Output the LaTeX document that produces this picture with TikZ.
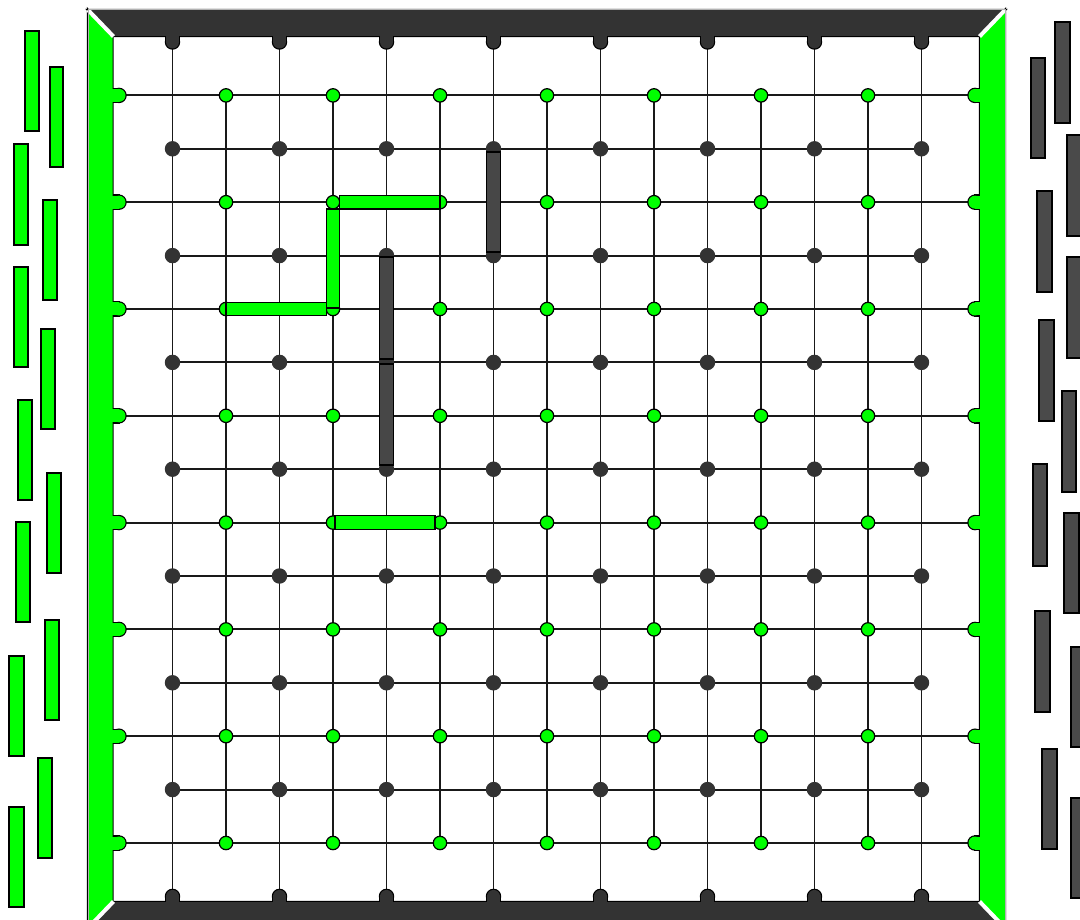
\documentclass[tikz,border=0pt]{standalone}
\definecolor{gr}{HTML}{00FF00}
\definecolor{dk}{HTML}{333333}
\definecolor{dkbar}{HTML}{474747}
\definecolor{dkside}{HTML}{4A4A4A}
\begin{document}
\begin{tikzpicture}[x=1pt,y=-1pt,
  gridline/.style={line width=1.9pt, draw=black!90},
  gdot/.style={circle, fill=gr, draw=black, line width=1.2pt, minimum size=13.4pt, inner sep=0pt},
  ddot/.style={circle, fill=dk, draw=black!80, line width=1.2pt, minimum size=14.2pt, inner sep=0pt},
  gbar/.style={fill=gr, draw=black, line width=1.2pt},
  dbar/.style={fill=dkbar, draw=black, line width=1.2pt},
  gside/.style={fill=gr, draw=black, line width=1.3pt},
  dside/.style={fill=dkside, draw=black, line width=1.3pt},
  gapline/.style={draw=white, line width=4pt}]
\useasboundingbox (0,0) rectangle (1080,920);
\clip (0,0) rectangle (1080,920);
\fill[white] (0,0) rectangle (1080,920);
\def\X#1{{119+53.5*(#1)}}
\def\Y#1{{42+53.4*(#1)}}
% grid lines
\foreach \c in {1,3,...,15} \draw[gridline] (\X{\c},\Y{0}) -- (\X{\c},\Y{16});
\foreach \c in {2,4,...,14} \draw[gridline] (\X{\c},\Y{1}) -- (\X{\c},\Y{15});
\foreach \r in {2,4,...,14} \draw[gridline] (\X{1},\Y{\r}) -- (\X{15},\Y{\r});
\foreach \r in {1,3,...,15} \draw[gridline] (\X{0},\Y{\r}) -- (\X{16},\Y{\r});
% frame: outlines first, then fills
\foreach \pass/\lw in {1/2.4pt,2/0pt}{
  \ifnum\pass=1 \tikzset{framepart/.style={line width=\lw, draw=black}}\else \tikzset{framepart/.style={draw=none}}\fi
  \path[framepart, fill=dk] (88,10) -- (1005,10) -- (980,36) -- (112.5,36) -- cycle;
  \path[framepart, fill=dk] (88,928) -- (1005,928) -- (980,902) -- (112.5,902) -- cycle;
  \path[framepart, fill=gr] (88,10) -- (112.5,36) -- (112.5,902) -- (88,928) -- cycle;
  \path[framepart, fill=gr] (1005,10) -- (980,36) -- (980,902) -- (1005,928) -- cycle;
  \foreach \c in {1,3,...,15}{
    \path[framepart, fill=dk] ({119+53.5*\c-6.5},30) rectangle ({119+53.5*\c+6.5},42);
    \path[framepart, fill=dk] ({119+53.5*\c},42) circle (6.5);
    \path[framepart, fill=dk] ({119+53.5*\c-6.5},896.4) rectangle ({119+53.5*\c+6.5},908);
    \path[framepart, fill=dk] ({119+53.5*\c},896.4) circle (6.5);
  }
  \foreach \r in {1,3,...,15}{
    \path[framepart, fill=gr] (105,{42+53.4*\r-6.5}) rectangle (119,{42+53.4*\r+6.5});
    \path[framepart, fill=gr] (119,{42+53.4*\r}) circle (6.5);
    \path[framepart, fill=gr] (975,{42+53.4*\r-6.5}) rectangle (988,{42+53.4*\r+6.5});
    \path[framepart, fill=gr] (975,{42+53.4*\r}) circle (6.5);
  }
}
\draw[gapline] (88,10) -- (113.5,36.5);
\draw[gapline] (1005,10) -- (979.5,36.5);
\draw[gapline] (88,928) -- (113.5,901.5);
\draw[gapline] (1005,928) -- (979.5,901.5);
\draw[gray!60, line width=1pt] (88,10) rectangle (1005,928);
% dots
\foreach \c in {2,4,...,14} \foreach \r in {1,3,...,15}
  \node[gdot] (g-\c-\r) at (\X{\c},\Y{\r}) {};
\foreach \c in {1,3,...,15} \foreach \r in {2,4,...,14}
  \node[ddot] (d-\c-\r) at (\X{\c},\Y{\r}) {};
% green bridges
\draw[gbar] (339.5,{42+53.4*3-6.8}) rectangle (440,{42+53.4*3+6.8});
\draw[gbar] (326.2,209) rectangle (339.8,308);
\draw[gbar] (226,{42+53.4*5-6.8}) rectangle (326.5,{42+53.4*5+6.8});
\draw[gbar] (335,{42+53.4*9-6.8}) rectangle (435,{42+53.4*9+6.8});
% dark bridges
\draw[dbar] (486.8,152) rectangle (500.2,252);
\draw[dbar] (379.8,257) rectangle (393.2,359);
\draw[dbar] (379.8,364) rectangle (393.2,465);
% side pieces
\foreach \a/\b/\c/\d in {25/31/39/131, 50/67/63/167, 14/144/28/245, 43/200/57/300, 14/267/28/367, 41/329/55/429, 18/400/32/500, 47/473/61/573, 16/522/30/622, 45/620/59/720, 9/656/24/756, 38/758/52/858, 9/807/24/907}
  \draw[gside] (\a,\b) rectangle (\c,\d);
\foreach \a/\b/\c/\d in {1055/22/1070/123, 1031/58/1045/158, 1067/135/1081/236, 1037/191/1052/292, 1067/257/1081/358, 1039/320/1054/421, 1062/391/1076/492, 1033/464/1047/566, 1064/513/1079/613, 1035/611/1050/712, 1071/647/1085/747, 1042/749/1057/849, 1071/798/1085/898}
  \draw[dside] (\a,\b) rectangle (\c,\d);
\end{tikzpicture}
\end{document}
